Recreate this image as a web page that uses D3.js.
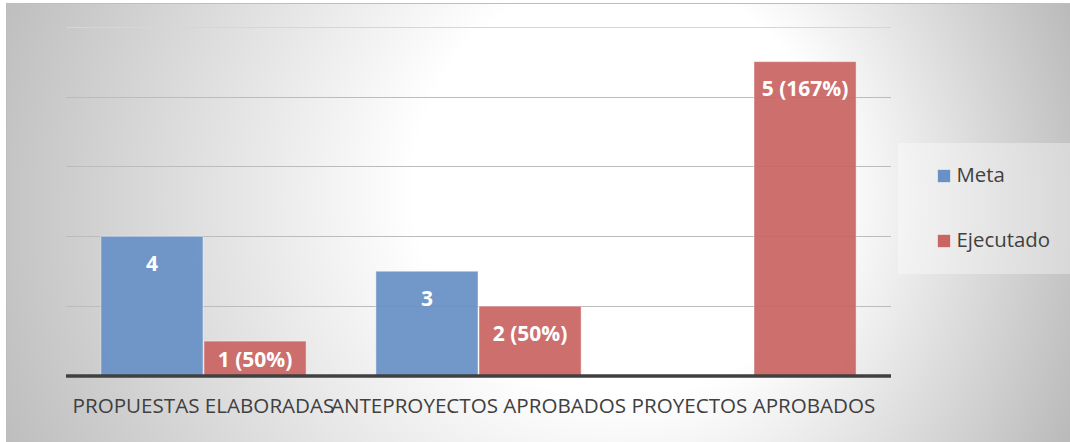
<!DOCTYPE html>
<html>
<head>
<meta charset="utf-8">
<script src="https://cdn.jsdelivr.net/npm/d3@7"></script>
<style>
  html, body { margin: 0; padding: 0; background: #fff; }
  svg { display: block; }
</style>
</head>
<body>
<div id="chart"></div>
<script>
// grouped bars: Meta vs Ejecutado per category
const categories = ['PROPUESTAS ELABORADAS', 'ANTEPROYECTOS APROBADOS', 'PROYECTOS APROBADOS'];
const series = ['Meta', 'Ejecutado'];
const meta = [4, 3, null];
const ejecutado = [1, 2, 9];
const metaLabels = ['4', '3', ''];
const ejecutadoLabels = ['1 (50%)', '2 (50%)', '5 (167%)'];
const yTicks = [0, 2, 4, 6, 8, 10];

(function() {
  const width = 1070;
  const height = 442;
  const plot = { left: 66, right: 891, top: 26.7, bottom: 376 };
  const colors = { Meta: '#6892c6', Ejecutado: '#c96664' };
  const font = '"Open Sans", sans-serif';

  const svg = d3.select('#chart').append('svg')
    .attr('width', width)
    .attr('height', height);

  // background: soft radial fade from white to grey, brighter toward upper right
  const defs = svg.append('defs');
  const grad = defs.append('radialGradient')
    .attr('id', 'bg')
    .attr('gradientUnits', 'userSpaceOnUse')
    .attr('cx', 520).attr('cy', 220).attr('r', 600)
    .attr('fx', 680).attr('fy', 170);
  grad.append('stop').attr('offset', 0).attr('stop-color', '#ffffff');
  grad.append('stop').attr('offset', 0.35).attr('stop-color', '#ffffff');
  grad.append('stop').attr('offset', 1).attr('stop-color', '#b8b8b8');

  svg.append('rect')
    .attr('x', 6.5).attr('y', 3.5)
    .attr('width', width).attr('height', height)
    .attr('fill', 'url(#bg)')
    .attr('stroke', '#bdbdbd');

  const x0 = d3.scaleBand()
    .domain(categories)
    .range([plot.left, plot.right])
    .paddingInner(0.25)
    .paddingOuter(0.125);

  const x1 = d3.scaleBand()
    .domain(series)
    .range([0, x0.bandwidth()]);

  const y = d3.scaleLinear()
    .domain([0, 10])
    .range([plot.bottom, plot.top]);

  // gridlines
  svg.append('g')
    .selectAll('line')
    .data(yTicks.slice(1))
    .enter().append('line')
    .attr('x1', plot.left).attr('x2', plot.right)
    .attr('y1', d => Math.round(y(d)) + 0.5)
    .attr('y2', d => Math.round(y(d)) + 0.5)
    .attr('stroke', d => d === 10 ? '#d6d6d6' : '#bcbcbc')
    .attr('stroke-width', 1);

  const rows = [];
  categories.forEach((c, i) => {
    rows.push({ cat: c, key: 'Meta', value: meta[i], label: metaLabels[i] });
    rows.push({ cat: c, key: 'Ejecutado', value: ejecutado[i], label: ejecutadoLabels[i] });
  });
  const bars = rows.filter(d => d.value != null && d.value > 0);

  svg.append('g')
    .selectAll('rect')
    .data(bars)
    .enter().append('rect')
    .attr('x', d => x0(d.cat) + x1(d.key) + 0.5)
    .attr('y', d => y(d.value))
    .attr('width', x1.bandwidth() - 1)
    .attr('height', d => y(0) - y(d.value))
    .attr('fill', d => colors[d.key])
    .attr('fill-opacity', 0.94)
    .attr('stroke', 'rgba(255,255,255,0.45)')
    .attr('stroke-width', 1);

  // data labels, inside end of the bar (centred when the bar is short)
  svg.append('g')
    .selectAll('text')
    .data(bars)
    .enter().append('text')
    .attr('x', d => x0(d.cat) + x1(d.key) + x1.bandwidth() / 2)
    .attr('y', d => {
      const top = y(d.value);
      return Math.min(top + 34.5, (top + y(0)) / 2 + 8.5);
    })
    .attr('text-anchor', 'middle')
    .style('font-family', font)
    .style('font-size', '21px')
    .style('font-weight', 700)
    .attr('fill', '#ffffff')
    .text(d => d.label);

  // axis baseline
  svg.append('line')
    .attr('x1', plot.left).attr('x2', plot.right)
    .attr('y1', plot.bottom).attr('y2', plot.bottom)
    .attr('stroke', '#404040')
    .attr('stroke-width', 3.5);

  // category labels
  svg.append('g')
    .selectAll('text')
    .data(categories)
    .enter().append('text')
    .attr('x', d => x0(d) + x0.bandwidth() / 2)
    .attr('y', 413)
    .attr('text-anchor', 'middle')
    .style('font-family', font)
    .style('font-size', '20.6px')
    .attr('fill', '#404040')
    .text(d => d);

  // legend
  const legend = svg.append('g');
  legend.append('rect')
    .attr('x', 898).attr('y', 143)
    .attr('width', 180).attr('height', 131)
    .attr('fill', '#ffffff')
    .attr('fill-opacity', 0.35);

  const item = legend.selectAll('g.item')
    .data(series)
    .enter().append('g')
    .attr('class', 'item')
    .attr('transform', (d, i) => `translate(937, ${169 + i * 65})`);

  item.append('rect')
    .attr('x', 0.5).attr('y', 0.5)
    .attr('width', 13).attr('height', 13)
    .attr('fill', d => colors[d])
    .attr('stroke', 'rgba(255,255,255,0.5)');

  item.append('text')
    .attr('x', 19.5)
    .attr('y', 13)
    .style('font-family', font)
    .style('font-size', '20.4px')
    .attr('fill', '#404040')
    .text(d => d);
})();
</script>
</body>
</html>
